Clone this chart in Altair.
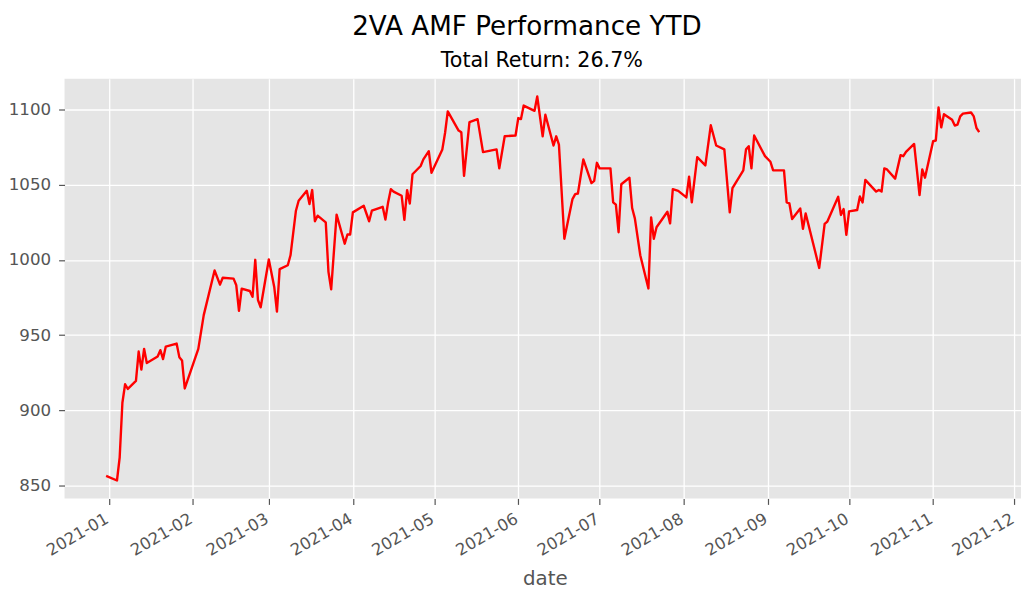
import altair as alt
import pandas as pd

TITLE = "2VA AMF Performance YTD"
SUBTITLE = "Total Return: 26.7%"
X_TITLE = "date"

dates = [
    "2020-12-31", "2021-01-04", "2021-01-05", "2021-01-06", "2021-01-07", "2021-01-08",
    "2021-01-11", "2021-01-12", "2021-01-13", "2021-01-14", "2021-01-15", "2021-01-19",
    "2021-01-20", "2021-01-21", "2021-01-22", "2021-01-26", "2021-01-27", "2021-01-28",
    "2021-01-29", "2021-02-03", "2021-02-05", "2021-02-09", "2021-02-11", "2021-02-12",
    "2021-02-16", "2021-02-17", "2021-02-18", "2021-02-19", "2021-02-22", "2021-02-23",
    "2021-02-24", "2021-02-25", "2021-02-26", "2021-03-01", "2021-03-03", "2021-03-04",
    "2021-03-05", "2021-03-08", "2021-03-09", "2021-03-11", "2021-03-12", "2021-03-15",
    "2021-03-16", "2021-03-17", "2021-03-18", "2021-03-19", "2021-03-22", "2021-03-23",
    "2021-03-24", "2021-03-26", "2021-03-29", "2021-03-30", "2021-03-31", "2021-04-01",
    "2021-04-05", "2021-04-07", "2021-04-08", "2021-04-12", "2021-04-13", "2021-04-14",
    "2021-04-15", "2021-04-16", "2021-04-19", "2021-04-20", "2021-04-21", "2021-04-22",
    "2021-04-23", "2021-04-26", "2021-04-27", "2021-04-29", "2021-04-30", "2021-05-04",
    "2021-05-05", "2021-05-06", "2021-05-10", "2021-05-11", "2021-05-12", "2021-05-14",
    "2021-05-17", "2021-05-19", "2021-05-24", "2021-05-25", "2021-05-27", "2021-05-31",
    "2021-06-01", "2021-06-02", "2021-06-03", "2021-06-07", "2021-06-08", "2021-06-10",
    "2021-06-11", "2021-06-14", "2021-06-15", "2021-06-16", "2021-06-18", "2021-06-21",
    "2021-06-22", "2021-06-23", "2021-06-25", "2021-06-28", "2021-06-29", "2021-06-30",
    "2021-07-01", "2021-07-05", "2021-07-06", "2021-07-07", "2021-07-08", "2021-07-09",
    "2021-07-12", "2021-07-13", "2021-07-14", "2021-07-16", "2021-07-19", "2021-07-20",
    "2021-07-21", "2021-07-22", "2021-07-26", "2021-07-27", "2021-07-28", "2021-07-30",
    "2021-08-02", "2021-08-03", "2021-08-04", "2021-08-06", "2021-08-09", "2021-08-11",
    "2021-08-13", "2021-08-16", "2021-08-17", "2021-08-18", "2021-08-19", "2021-08-23",
    "2021-08-24", "2021-08-25", "2021-08-26", "2021-08-27", "2021-08-31", "2021-09-02",
    "2021-09-03", "2021-09-07", "2021-09-08", "2021-09-09", "2021-09-10", "2021-09-13",
    "2021-09-14", "2021-09-15", "2021-09-20", "2021-09-22", "2021-09-23", "2021-09-27",
    "2021-09-28", "2021-09-29", "2021-09-30", "2021-10-01", "2021-10-04", "2021-10-05",
    "2021-10-06", "2021-10-07", "2021-10-11", "2021-10-12", "2021-10-13", "2021-10-14",
    "2021-10-15", "2021-10-18", "2021-10-20", "2021-10-21", "2021-10-22", "2021-10-25",
    "2021-10-26", "2021-10-27", "2021-10-28", "2021-10-29", "2021-11-01", "2021-11-02",
    "2021-11-03", "2021-11-04", "2021-11-05", "2021-11-08", "2021-11-09", "2021-11-10",
    "2021-11-11", "2021-11-12", "2021-11-15", "2021-11-16", "2021-11-17", "2021-11-18",
]

values = [
    856.6, 853.5, 868.9, 905.1, 917.4, 914.3,
    919.6, 939.1, 927.1, 940.9, 931.5, 935.8,
    940.0, 934.1, 942.4, 944.4, 935.4, 933.2,
    914.6, 940.9, 963.3, 992.9, 983.5, 988.1,
    987.5, 983.1, 966.1, 980.9, 979.3, 975.4,
    1000.0, 973.3, 968.5, 1000.2, 982.0, 965.6,
    993.8, 996.4, 1003.0, 1032.6, 1039.2, 1045.8,
    1037.0, 1046.3, 1025.6, 1029.3, 1024.9, 992.0,
    980.4, 1030.0, 1010.7, 1016.8, 1016.8, 1031.5,
    1035.9, 1025.6, 1032.6, 1035.2, 1026.7, 1038.1,
    1046.9, 1045.3, 1042.5, 1026.5, 1046.3, 1037.4,
    1056.8, 1062.3, 1066.7, 1072.1, 1057.8, 1073.3,
    1084.2, 1098.5, 1085.8, 1084.7, 1055.7, 1091.4,
    1093.4, 1071.5, 1073.3, 1060.7, 1082.0, 1082.5,
    1094.1, 1093.4, 1102.4, 1098.9, 1108.4, 1082.0,
    1096.3, 1075.9, 1082.0, 1076.5, 1014.0, 1040.3,
    1043.6, 1044.0, 1066.7, 1050.9, 1052.4, 1064.4,
    1060.7, 1060.7, 1038.1, 1036.6, 1018.3, 1050.2,
    1054.5, 1034.4, 1027.5, 1003.0, 981.0, 1028.2,
    1014.0, 1021.6, 1031.9, 1024.2, 1046.9, 1045.8,
    1041.4, 1055.2, 1038.1, 1068.2, 1062.7, 1089.3,
    1075.9, 1073.3, 1052.4, 1031.5, 1047.6, 1059.4,
    1073.3, 1075.4, 1060.7, 1082.5, 1068.8, 1065.1,
    1059.4, 1059.4, 1038.1, 1037.4, 1027.1, 1034.1,
    1020.6, 1030.8, 994.6, 1023.8, 1025.4, 1041.8,
    1029.8, 1033.7, 1016.6, 1032.2, 1033.1, 1042.1,
    1038.1, 1053.1, 1045.3, 1046.4, 1045.3, 1060.7,
    1060.0, 1053.9, 1069.5, 1068.8, 1071.7, 1076.9,
    1060.0, 1043.0, 1060.0, 1054.5, 1078.7, 1079.2,
    1101.1, 1087.9, 1096.7, 1093.0, 1089.1, 1089.7,
    1095.2, 1097.0, 1097.8, 1095.2, 1087.5, 1084.8,
]

y_ticks = [850, 900, 950, 1000, 1050, 1100]
x_tick_months = list(range(1, 13))

df = pd.DataFrame({"date": dates, "value": values})

FONT = "DejaVu Sans"
GREY = "#555555"

x_enc = alt.X(
    "date:T",
    scale=alt.Scale(
        type="utc",
        domain=[
            alt.DateTime(year=2020, month=12, date=15, hours=16, utc=True),
            alt.DateTime(year=2021, month=12, date=3, hours=10, utc=True),
        ],
    ),
    axis=alt.Axis(
        values=[alt.DateTime(year=2021, month=m, date=1, utc=True) for m in x_tick_months],
        labelExpr="utcFormat(datum.value, '%Y-%m')",
        labelAngle=330,
        labelAlign="right",
        labelBaseline="top",
        labelOffset=-6,
        labelPadding=6,
        labelFontSize=16.5,
        labelFont=FONT,
        labelColor=GREY,
        labelOverlap=False,
        labelFlush=False,
        labelBound=False,
        tickColor=GREY,
        tickSize=6,
        tickWidth=1.2,
        domain=False,
        grid=True,
        gridColor="white",
        gridWidth=1.3,
        title=X_TITLE,
        titleFont=FONT,
        titleFontSize=20,
        titleFontWeight="normal",
        titleColor=GREY,
        titleBaseline="alphabetic",
        titleY=87,
        titleX=484,
    ),
)

y_enc = alt.Y(
    "value:Q",
    scale=alt.Scale(domain=[841.6, 1120.2], nice=False, zero=False),
    axis=alt.Axis(
        values=y_ticks,
        format="d",
        labelFontSize=16.8,
        labelFont=FONT,
        labelColor=GREY,
        labelPadding=8,
        tickColor=GREY,
        tickSize=6,
        tickWidth=1.2,
        domain=False,
        grid=True,
        gridColor="white",
        gridWidth=1.3,
        title=None,
    ),
)

line = alt.Chart(df).mark_line(color="#FF0000", strokeWidth=2.4, strokeJoin="round").encode(
    x=x_enc, y=y_enc
)

title_mark = alt.Chart(pd.DataFrame({"label": [TITLE]})).mark_text(
    font=FONT, fontSize=26.4, align="center", baseline="alphabetic", color="black"
).encode(text="label:N", x=alt.value(466), y=alt.value(-44))

subtitle_mark = alt.Chart(pd.DataFrame({"label": [SUBTITLE]})).mark_text(
    font=FONT, fontSize=20.8, align="center", baseline="alphabetic", color="black"
).encode(text="label:N", x=alt.value(481), y=alt.value(-12))

chart = (
    alt.layer(line, title_mark, subtitle_mark)
    .properties(
        width=964,
        height=423,
        autosize=alt.AutoSizeParams(type="none"),
        padding={"left": 57, "top": 69, "right": 0, "bottom": 92},
        background="white",
    )
    .configure_view(fill="#E5E5E5", strokeWidth=0)
)

chart.save("out.html", embed_options={"renderer": "svg", "actions": False})
